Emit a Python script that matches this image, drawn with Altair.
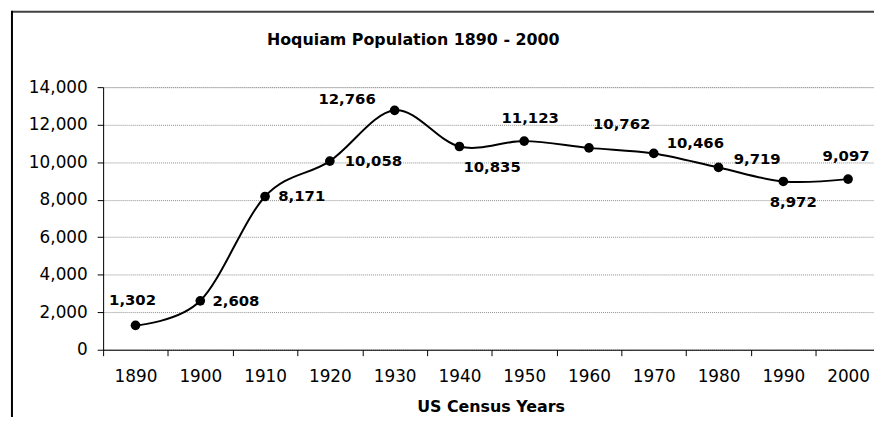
import altair as alt
import pandas as pd

# ---- data ----
YEARS = [1890, 1900, 1910, 1920, 1930, 1940, 1950, 1960, 1970, 1980, 1990, 2000]
POPULATION = [1302, 2608, 8171, 10058, 12766, 10835, 11123, 10762, 10466, 9719, 8972, 9097]
Y_TICKS = [0, 2000, 4000, 6000, 8000, 10000, 12000, 14000]
X_TICK_BOUNDARIES = [1885, 1895, 1905, 1915, 1925, 1935, 1945, 1955, 1965, 1975, 1985, 1995]
TITLE = "Hoquiam Population 1890 - 2000"
X_TITLE = "US Census Years"

# label offsets (pixels) relative to each point: layout only
LABEL_DX = [-3, 36, 37, 44, -48, 33, 6, 33, 42, 39, 10, -2]
LABEL_DY = [-25, 0, 0, 0, -11, 21, -23, -24, -10, -8, 21, -23]

df = pd.DataFrame({"year": YEARS, "pop": POPULATION})
df["label"] = df["pop"].map(lambda v: f"{v:,}")

FONT = "DejaVu Sans"
W, H = 778, 265

x = alt.X(
    "year:Q",
    scale=alt.Scale(domain=[1885, 2004], nice=False, zero=False),
    axis=alt.Axis(
        values=X_TICK_BOUNDARIES,
        labelExpr="'' + (datum.value + 5)",
        labelOffset=32.7,
        labelFlush=False,
        labelOverlap=False,
        labelBound=False,
        grid=False,
        tickSize=6,
        tickColor="black",
        domainColor="black",
        labelPadding=13,
        labelFontSize=17,
        labelColor="black",
        labelFont=FONT,
        title=X_TITLE,
        titleFont=FONT,
        titleFontSize=16,
        titleFontWeight="bold",
        titleColor="black",
        titleBaseline="alphabetic",
        titleY=62,
        titleX=391,
    ),
)
y = alt.Y(
    "pop:Q",
    scale=alt.Scale(domain=[0, 14000], nice=False),
    axis=alt.Axis(
        values=Y_TICKS,
        format=",d",
        labelOverlap=False,
        labelFlush=False,
        grid=True,
        gridColor="#8c8c8c",
        gridDash=[1, 1],
        gridWidth=1,
        tickSize=6,
        tickColor="black",
        domainColor="black",
        labelPadding=10,
        labelFontSize=17,
        labelColor="black",
        labelFont=FONT,
        title=None,
    ),
)

base = alt.Chart(df)
line = base.mark_line(color="black", strokeWidth=2, interpolate="cardinal").encode(x=x, y=y)
points = base.mark_point(filled=True, color="black", size=95, opacity=1).encode(x=x, y=y)

labels = []
for yr, dx, dy in zip(YEARS, LABEL_DX, LABEL_DY):
    labels.append(
        base.transform_filter(alt.datum.year == yr)
        .mark_text(dx=dx, dy=dy, align="center", baseline="middle",
                   font=FONT, fontSize=15, fontWeight="bold", color="black")
        .encode(x=x, y=y, text="label:N")
    )

one = alt.Chart(pd.DataFrame({"a": [0]}))
title = one.mark_text(font=FONT, fontSize=16, fontWeight="bold", color="black",
                      align="center", baseline="alphabetic").encode(
    x=alt.value(313), y=alt.value(-43), text=alt.value(TITLE))
frame_top = one.mark_rule(color="#404040", strokeWidth=2).encode(
    x=alt.value(-92), x2=alt.value(W), y=alt.value(-76))
frame_left = one.mark_rule(color="black", strokeWidth=2).encode(
    x=alt.value(-92), y=alt.value(-77), y2=alt.value(340))

chart = alt.layer(line, points, *labels, title, frame_top, frame_left).properties(
    width=W, height=H,
    autosize=alt.AutoSizeParams(type="none"),
    padding={"left": 96, "top": 78, "right": 0, "bottom": 66},
).configure_view(stroke=None).configure(font=FONT)

chart.save("out.html", embed_options={"renderer": "svg", "actions": False})
